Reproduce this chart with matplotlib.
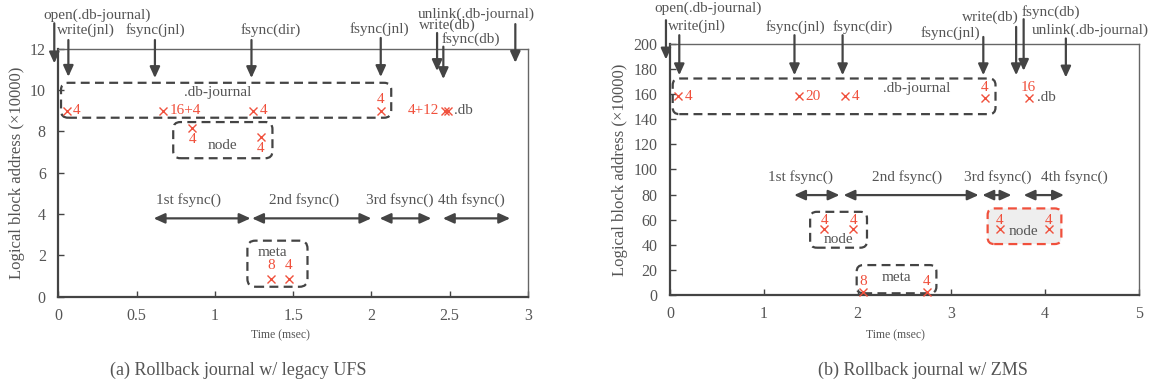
import matplotlib.pyplot as plt
from matplotlib.patches import FancyBboxPatch

plt.rcParams['font.family'] = ['Liberation Serif', 'DejaVu Serif']

GRAY = '#555555'
DARK = '#444444'
RED = '#f0503c'

# ---------------- (a) legacy UFS ----------------
a_events = ['open(.db-journal)', 'write(jnl)', 'fsync(jnl)', 'fsync(dir)',
            'fsync(jnl)', 'write(db)', 'fsync(db)', 'unlink(.db-journal)']
a_event_t = [-0.026, 0.064, 0.617, 1.234, 2.06, 2.42, 2.46, 2.92]
a_arrow_tail = [13.23, 12.42, 12.42, 12.42, 12.52, 12.76, 12.10, 13.19]
a_arrow_tip = [11.29, 10.64, 10.58, 10.58, 10.63, 10.92, 10.53, 11.32]
a_label_x = [0.245, 0.177, 0.617, 1.357, 2.053, 2.485, 2.638, 2.67]
a_label_y = [13.63, 12.90, 12.90, 12.90, 12.95, 13.14, 12.47, 13.68]

a_jnl_t = [0.054, 0.67, 1.245, 2.06]
a_jnl_lba = [9.0, 9.0, 9.0, 9.0]
a_jnl_size = ['4', '16+4', '4', '4']
a_jnl_pos = ['right', 'right', 'right', 'above']

a_db_t = [2.47, 2.49]
a_db_lba = [9.0, 9.0]
a_db_size = '4+12'

a_node_t = [0.855, 1.294]
a_node_lba = [8.18, 7.74]
a_node_size = ['4', '4']

a_meta_t = [1.357, 1.474]
a_meta_lba = [0.84, 0.84]
a_meta_size = ['8', '4']

a_phases = ['1st fsync()', '2nd fsync()', '3rd fsync()', '4th fsync()']
a_phase_start = [0.609, 1.238, 2.053, 2.457]
a_phase_end = [1.228, 2.0, 2.383, 2.887]
a_phase_label_x = [0.83, 1.57, 2.18, 2.64]

# ---------------- (b) ZMS ----------------
b_events = ['open(.db-journal)', 'write(jnl)', 'fsync(jnl)', 'fsync(dir)',
            'fsync(jnl)', 'write(db)', 'fsync(db)', 'unlink(.db-journal)']
b_event_t = [-0.043, 0.099, 1.327, 1.84, 3.34, 3.69, 3.77, 4.22]
b_arrow_tail = [218.5, 206.6, 206.6, 206.6, 205.2, 213.2, 219.3, 204.0]
b_arrow_tip = [187.3, 174.8, 174.8, 174.8, 174.8, 174.8, 178.3, 173.0]
b_label_x = [0.409, 0.285, 1.334, 2.049, 2.988, 3.415, 4.056, 4.482]
b_label_y = [227.8, 214.0, 213.2, 213.2, 208.4, 221.1, 225.1, 210.6]

b_jnl_t = [0.089, 1.38, 1.87, 3.354]
b_jnl_lba = [158, 158, 158, 157]
b_jnl_size = ['4', '20', '4', '4']
b_jnl_pos = ['right', 'right', 'right', 'above']

b_db_t = [3.824]
b_db_lba = [157]
b_db_size = ['16']

b_node_t = [1.647, 1.956]
b_node_lba = [52.3, 52.3]
b_node_size = ['4', '4']

b_node2_t = [3.514, 4.04]
b_node2_lba = [52.3, 52.3]
b_node2_size = ['4', '4']

b_meta_t = [2.056, 2.74]
b_meta_lba = [2.9, 2.9]
b_meta_size = ['8', '4']

b_phases = ['1st fsync()', '2nd fsync()', '3rd fsync()', '4th fsync()']
b_phase_start = [1.323, 1.85, 3.33, 3.77]
b_phase_end = [1.807, 3.29, 3.64, 4.2]
b_phase_label_x = [1.395, 2.53, 3.49, 4.31]


def crosses(ax, t, lba):
    ax.plot(t, lba, linestyle='none', marker='x', ms=6, mew=1.0,
            color=RED, clip_on=False, zorder=5)


def size_label(ax, x, y, s, pos, dist=8):
    off = {'right': (4.5, 0), 'left': (-4.5, 0), 'above': (0, dist), 'below': (0, -dist)}[pos]
    ha = {'right': 'left', 'left': 'right', 'above': 'center', 'below': 'center'}[pos]
    ax.annotate(s, (x, y), xytext=off, textcoords='offset points', ha=ha,
                va='center', color=RED, fontsize=11, annotation_clip=False)


def box(ax, x0, y0, x1, y1, aspect, rs, edge=DARK, face='none'):
    p = FancyBboxPatch((x0, y0), x1 - x0, y1 - y0,
                       boxstyle=f'round,pad=0,rounding_size={rs}',
                       mutation_aspect=aspect, fill=(face != 'none'),
                       facecolor=face, edgecolor=edge, lw=1.6,
                       linestyle=(0, (4, 2.4)), clip_on=False, zorder=3)
    ax.add_patch(p)


def style_axes(ax, xlim, ylim, xticks, yticks):
    ax.set_xlim(*xlim)
    ax.set_ylim(*ylim)
    ax.set_xticks(xticks)
    ax.set_yticks(yticks)
    for side in ['left', 'bottom']:
        ax.spines[side].set_color(DARK)
        ax.spines[side].set_linewidth(1.6)
    for side in ['top', 'right']:
        ax.spines[side].set_color('#666666')
        ax.spines[side].set_linewidth(1.0)
    ax.tick_params(direction='in', length=4, width=1, colors=DARK,
                   labelcolor=GRAY, labelsize=11.5)
    ax.tick_params(axis='y', pad=9)
    ax.tick_params(axis='x', pad=8)


def event_arrows(ax, names, t, tail, tip, lx, ly):
    for n, x, y0, y1, tx, ty in zip(names, t, tail, tip, lx, ly):
        ax.annotate('', xy=(x, y1), xytext=(x, y0),
                    arrowprops=dict(arrowstyle='-|>,head_length=0.55,head_width=0.25',
                                    color=DARK, lw=1.6, shrinkA=0, shrinkB=0,
                                    mutation_scale=12),
                    annotation_clip=False)
        ax.text(tx, ty, n, ha='center', va='center', fontsize=11, color=GRAY,
                clip_on=False)


def phase_arrows(ax, names, x0s, x1s, lxs, y, ly):
    for n, x0, x1, lx in zip(names, x0s, x1s, lxs):
        ax.annotate('', xy=(x1, y), xytext=(x0, y),
                    arrowprops=dict(arrowstyle='<|-|>,head_length=0.55,head_width=0.25',
                                    color=DARK, lw=1.6, shrinkA=0, shrinkB=0,
                                    mutation_scale=12))
        ax.text(lx, ly, n, ha='center', va='center', fontsize=11, color=GRAY)


fig = plt.figure(figsize=(11.51, 3.85), dpi=100)
ax1 = fig.add_axes([0.0507, 0.2294, 0.4079, 0.6441])
ax2 = fig.add_axes([0.5821, 0.2330, 0.4075, 0.6540])

# ---- panel (a)
style_axes(ax1, (0, 3), (0, 12), [0, 0.5, 1, 1.5, 2, 2.5, 3], range(0, 13, 2))
ax1.set_xticklabels(['0', '0.5', '1', '1.5', '2', '2.5', '3'])
asp1 = 156.7 / 20.67
box(ax1, 0.017, 8.66, 2.127, 10.35, asp1, 0.045)
box(ax1, 0.734, 6.70, 1.368, 8.45, asp1, 0.045)
box(ax1, 1.208, 0.48, 1.592, 2.71, asp1, 0.05)
ax1.text(1.02, 9.9, '.db-journal', ha='center', va='center', fontsize=11, color=GRAY)
ax1.text(1.046, 7.3, 'node', ha='center', va='center', fontsize=11, color=GRAY)
ax1.text(1.37, 2.16, 'meta', ha='center', va='center', fontsize=11, color=GRAY)
ax1.text(2.59, 9.0, '.db', ha='center', va='center', fontsize=11, color=GRAY)

crosses(ax1, a_jnl_t, a_jnl_lba)
for x, y, s, p in zip(a_jnl_t, a_jnl_lba, a_jnl_size, a_jnl_pos):
    size_label(ax1, x, y, s, p)
crosses(ax1, a_db_t, a_db_lba)
size_label(ax1, a_db_t[0], a_db_lba[0], a_db_size, 'left')
crosses(ax1, a_node_t, a_node_lba)
for x, y, s in zip(a_node_t, a_node_lba, a_node_size):
    size_label(ax1, x, y, s, 'below', dist=8.5)
crosses(ax1, a_meta_t, a_meta_lba)
for x, y, s in zip(a_meta_t, a_meta_lba, a_meta_size):
    size_label(ax1, x, y, s, 'above', dist=10)

phase_arrows(ax1, a_phases, a_phase_start, a_phase_end, a_phase_label_x, 3.79, 4.68)
event_arrows(ax1, a_events, a_event_t, a_arrow_tail, a_arrow_tip, a_label_x, a_label_y)

ax1.set_ylabel('Logical block address (×10000)', fontsize=12, color=GRAY, va='center')
ax1.yaxis.set_label_coords(-0.088, 0.5)
ax1.text(0.474, -0.154, 'Time (msec)', transform=ax1.transAxes, ha='center',
         va='center', fontsize=8.5, color=GRAY)

# ---- panel (b)
style_axes(ax2, (0, 5), (0, 200), range(0, 6), range(0, 201, 20))
asp2 = 93.7 / 1.26
box(ax2, 0.029, 143.9, 3.47, 172.2, asp2, 0.07)
box(ax2, 1.494, 37.8, 2.10, 66.3, asp2, 0.07)
box(ax2, 1.99, 1.6, 2.84, 24.0, asp2, 0.07)
box(ax2, 3.386, 40.7, 4.172, 69.0, asp2, 0.07, edge=RED, face='#eeeeee')
ax2.text(2.63, 164.3, '.db-journal', ha='center', va='center', fontsize=11, color=GRAY)
ax2.text(1.797, 44.4, 'node', ha='center', va='center', fontsize=11, color=GRAY)
ax2.text(3.77, 50.5, 'node', ha='center', va='center', fontsize=11, color=GRAY, zorder=6)
ax2.text(2.41, 14.3, 'meta', ha='center', va='center', fontsize=11, color=GRAY)
ax2.text(4.01, 156.8, '.db', ha='center', va='center', fontsize=11, color=GRAY)

crosses(ax2, b_jnl_t, b_jnl_lba)
for x, y, s, p in zip(b_jnl_t, b_jnl_lba, b_jnl_size, b_jnl_pos):
    size_label(ax2, x, y, s, p, dist=7.5)
crosses(ax2, b_db_t, b_db_lba)
for x, y, s in zip(b_db_t, b_db_lba, b_db_size):
    size_label(ax2, x, y, s, 'above', dist=7.5)
crosses(ax2, b_node_t, b_node_lba)
for x, y, s in zip(b_node_t, b_node_lba, b_node_size):
    size_label(ax2, x, y, s, 'above', dist=6.5)
crosses(ax2, b_node2_t, b_node2_lba)
for x, y, s in zip(b_node2_t, b_node2_lba, b_node2_size):
    size_label(ax2, x, y, s, 'above', dist=6.5)
crosses(ax2, b_meta_t, b_meta_lba)
for x, y, s in zip(b_meta_t, b_meta_lba, b_meta_size):
    size_label(ax2, x, y, s, 'above', dist=7)

phase_arrows(ax2, b_phases, b_phase_start, b_phase_end, b_phase_label_x, 79.6, 94)
event_arrows(ax2, b_events, b_event_t, b_arrow_tail, b_arrow_tip, b_label_x, b_label_y)

ax2.set_ylabel('Logical block address (×10000)', fontsize=12, color=GRAY, va='center')
ax2.yaxis.set_label_coords(-0.107, 0.5)
ax2.text(0.48, -0.158, 'Time (msec)', transform=ax2.transAxes, ha='center',
         va='center', fontsize=8.5, color=GRAY)

fig.text(238.5 / 1151, 1 - 370 / 385, '(a) Rollback journal w/ legacy UFS',
         ha='center', va='center', fontsize=13, color=GRAY)
fig.text(923 / 1151, 1 - 370 / 385, '(b) Rollback journal w/ ZMS',
         ha='center', va='center', fontsize=13, color=GRAY)

fig.savefig('out.png', dpi=100)
